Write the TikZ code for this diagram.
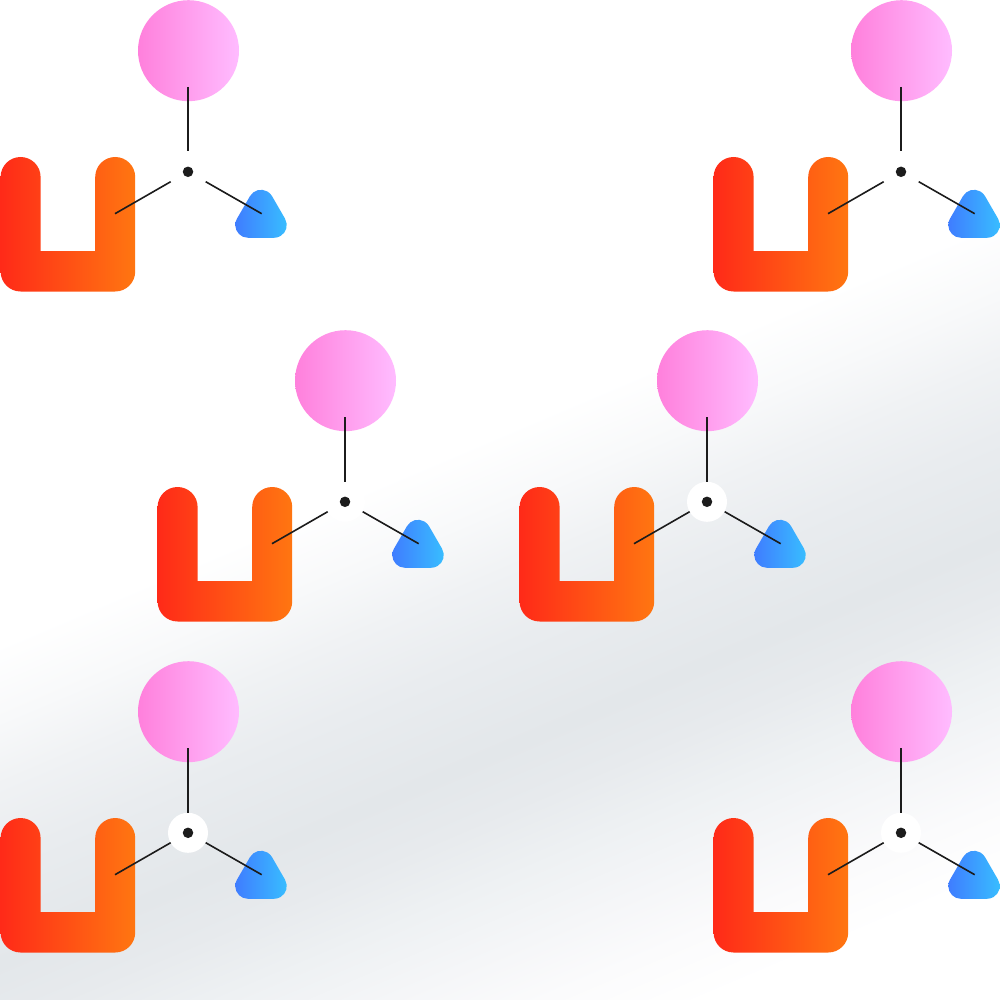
\documentclass[tikz,border=0pt]{standalone}
\definecolor{ink}{HTML}{1C1C1C}
\definecolor{ua}{HTML}{FF2A18}
\definecolor{ub}{HTML}{FF7611}
\definecolor{ca}{HTML}{FF80DC}
\definecolor{cb}{HTML}{FFBCFF}
\definecolor{ta}{HTML}{3F7DFF}
\definecolor{tb}{HTML}{38BFFF}
\definecolor{bga}{HTML}{FBFBFC}
\definecolor{bgb}{HTML}{F5F6F8}
\definecolor{bgc}{HTML}{EEF1F3}
\definecolor{bgd}{HTML}{E7EAED}
\definecolor{bge}{HTML}{E3E7EA}
\definecolor{bgf}{HTML}{E9ECEF}
\definecolor{bgg}{HTML}{F0F2F4}
\definecolor{bgh}{HTML}{F8F9FA}
\pgfdeclareverticalshading{bandshade}{1800pt}{color(0pt)=(white); color(395pt)=(white); color(460pt)=(bga); color(520pt)=(bgb); color(585pt)=(bgc); color(650pt)=(bgd); color(705pt)=(bge); color(800pt)=(bgf); color(870pt)=(bgg); color(930pt)=(bgh); color(1000pt)=(white); color(1800pt)=(white)}
\tikzset{
  ushape/.style={left color=ua,right color=ub,draw=none},
  ball/.style={left color=ca,right color=cb,draw=none},
  tri/.style={left color=ta,right color=tb,draw=none},
  halo/.style={circle,fill=white,draw=none,minimum size=40pt,inner sep=0pt},
  hubdot/.style={circle,fill=ink,draw=none,minimum size=10.5pt,inner sep=0pt},
  spoke/.style={draw=ink,line width=1.6pt}
}
\newcommand{\hubgroup}[3]{%
  \begin{scope}[shift={(#2,#3)}]
    \shade[ball] (0.5,-121.3) circle[radius=50.5];
    \shade[ushape] (-187.4,5) arc[start angle=180,end angle=360,radius=20]
      -- (-147.4,79) -- (-92.8,79) -- (-92.8,5)
      arc[start angle=180,end angle=360,radius=20]
      -- (-52.8,99.5) arc[start angle=0,end angle=90,radius=20]
      -- (-167.4,119.5) arc[start angle=90,end angle=180,radius=20] -- cycle;
    \begin{scope}[shift={(-0.25,-0.2)}]
    \shade[tri] (62.21,24.375) arc[start angle=210,end angle=330,radius=12.75]
      -- (97.29,46.875) arc[start angle=330,end angle=450,radius=12.75]
      -- (60.25,66) arc[start angle=90,end angle=210,radius=12.75] -- cycle;
    \end{scope}
    \node[halo] (halo#1) at (0,-0.2) {};
    \node[hubdot] (dot#1) at (0,-0.2) {};
    \coordinate (topa#1) at (0,-85);
    \coordinate (topb#1) at (0,-20.5);
    \coordinate (lefta#1) at (-73,41.7);
    \coordinate (leftb#1) at (-17.3,9.7);
    \coordinate (righta#1) at (73.7,41.7);
    \coordinate (rightb#1) at (17.7,9.7);
    \draw[spoke] (topa#1) -- (topb#1);
    \draw[spoke] (lefta#1) -- (leftb#1);
    \draw[spoke] (righta#1) -- (rightb#1);
  \end{scope}}
\begin{document}
\begin{tikzpicture}[x=1pt,y=-1pt]
  \useasboundingbox (0,0) rectangle (1000,1000);
  \begin{scope}
    \clip (0,0) rectangle (1000,1000);
    \node[inner sep=0pt,rotate=23] (bg) at (500,540) {\pgfuseshading{bandshade}};
  \end{scope}
  \hubgroup{a}{188}{172}
  \hubgroup{b}{901}{172}
  \hubgroup{c}{345}{502}
  \hubgroup{d}{707}{502}
  \hubgroup{e}{188}{833}
  \hubgroup{f}{901}{833}
\end{tikzpicture}
\end{document}
